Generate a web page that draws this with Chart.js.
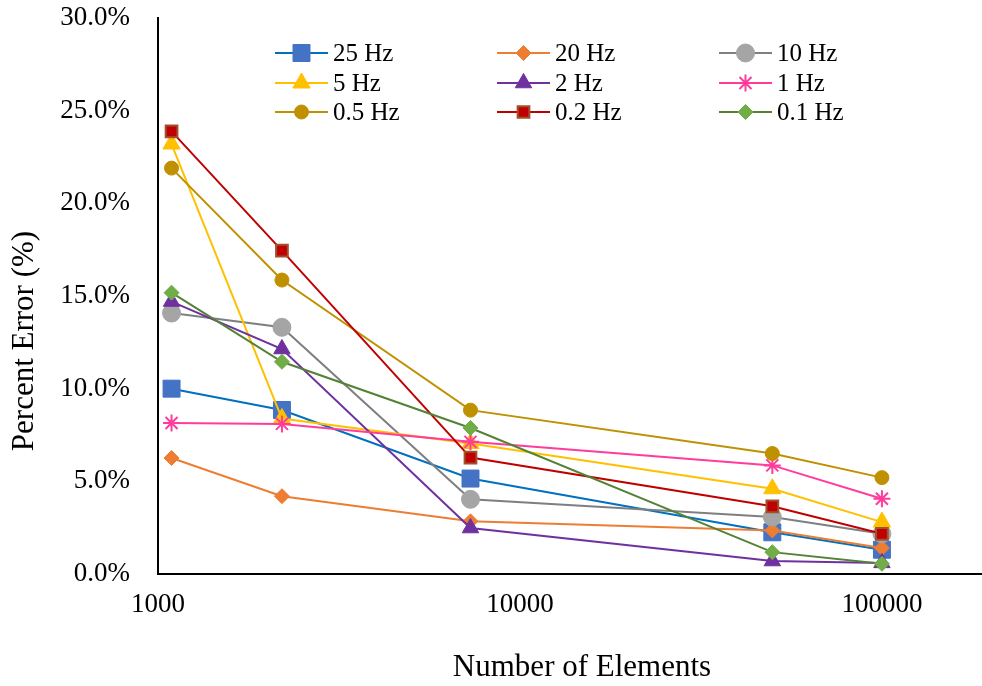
<!DOCTYPE html>
<html><head><meta charset="utf-8">
<script src="https://cdn.jsdelivr.net/npm/chart.js@4.4.0/dist/chart.umd.min.js"></script>
<style>html,body{margin:0;padding:0;background:#fff;} canvas{display:block;}</style>
</head><body>
<canvas id="c" width="982" height="686"></canvas>
<script>
// ---- data ----
const elements = [1090, 2200, 7300, 49800, 100000];
const seriesNames = ['25 Hz','20 Hz','10 Hz','5 Hz','2 Hz','1 Hz','0.5 Hz','0.2 Hz','0.1 Hz'];
const err25Hz  = [10.0, 8.85, 5.15, 2.25, 1.31];
const err20Hz  = [6.26, 4.2, 2.84, 2.35, 1.4];
const err10Hz  = [14.08, 13.31, 4.03, 3.07, 2.17];
const err5Hz   = [23.2, 8.39, 7.04, 4.6, 2.8];
const err2Hz   = [14.7, 12.14, 2.48, 0.7, 0.6];
const err1Hz   = [8.15, 8.1, 7.13, 5.86, 4.06];
const err05Hz  = [21.9, 15.86, 8.84, 6.5, 5.2];
const err02Hz  = [23.88, 17.45, 6.28, 3.65, 2.17];
const err01Hz  = [15.18, 11.45, 7.88, 1.18, 0.55];
const xTickValues = [1000, 10000, 100000];
const yTickValues = [0, 5, 10, 15, 20, 25, 30];
const xTitle = 'Number of Elements';
const yTitle = 'Percent Error (%)';

const seriesValues = [err25Hz, err20Hz, err10Hz, err5Hz, err2Hz, err1Hz, err05Hz, err02Hz, err01Hz];

// ---- styles ----
const lineColors   = ['#0070C0','#ED7D31','#7F7F7F','#FFC000','#7030A0','#FF3C9C','#BF9000','#C00000','#548235'];
const markerFills  = ['#4472C4','#ED7D31','#A5A5A5','#FFC000','#7030A0','#FF3C9C','#BF9000','#C00000','#70AD47'];
const markerBorders= ['#4472C4','#ED7D31','#A5A5A5','#FFC000','#7030A0','#FF3C9C','#BF9000','#A0522D','#70AD47'];
const markerStyles = ['rect','rectRot','circle','triangle','triangle','star','circle','rect','rectRot'];
const markerRadii  = [12, 7.5, 9, 10, 9.5, 8.5, 7, 8.3, 7.5];
const markerBorderW= [1, 1, 1, 1, 1, 2, 1, 2, 1];
const FONT = '"Liberation Serif", "Times New Roman", serif';

const datasets = seriesNames.map((name, i) => ({
  label: name,
  data: elements.map((x, j) => ({x: x, y: seriesValues[i][j]})),
  borderColor: lineColors[i],
  backgroundColor: markerFills[i],
  borderWidth: 2,
  pointStyle: markerStyles[i],
  pointRadius: markerRadii[i],
  pointBackgroundColor: markerFills[i],
  pointBorderColor: markerBorders[i],
  pointBorderWidth: markerBorderW[i],
  tension: 0,
  order: seriesNames.length - i
}));

const legendCols = [275, 497, 719];
const legendRows = [53, 83, 112];

const customPlugin = {
  id: 'custom',
  afterDraw(chart) {
    const ctx = chart.ctx;
    ctx.save();
    // legend
    chart.data.datasets.forEach((ds, i) => {
      const x0 = legendCols[i % 3];
      const y0 = legendRows[Math.floor(i / 3)];
      ctx.strokeStyle = ds.borderColor;
      ctx.lineWidth = 2;
      ctx.beginPath();
      ctx.moveTo(x0, y0);
      ctx.lineTo(x0 + 53, y0);
      ctx.stroke();
      ctx.fillStyle = ds.pointBackgroundColor;
      ctx.strokeStyle = ds.pointBorderColor;
      ctx.lineWidth = ds.pointBorderWidth;
      Chart.helpers.drawPoint(ctx, {pointStyle: ds.pointStyle, radius: ds.pointRadius, rotation: 0, borderWidth: ds.pointBorderWidth}, x0 + 26.5, y0);
      ctx.fillStyle = '#000';
      ctx.font = '25px ' + FONT;
      ctx.textAlign = 'left';
      ctx.textBaseline = 'middle';
      ctx.fillText(ds.label, x0 + 58, y0 + 1);
    });
    // axis titles
    ctx.fillStyle = '#000';
    ctx.font = '31px ' + FONT;
    ctx.textAlign = 'center';
    ctx.textBaseline = 'middle';
    ctx.fillText(xTitle, 582, 668);
    ctx.translate(25, 341);
    ctx.rotate(-Math.PI / 2);
    ctx.fillText(yTitle, 0, 0);
    ctx.restore();
  }
};

new Chart(document.getElementById('c'), {
  type: 'line',
  data: { datasets: datasets },
  options: {
    responsive: false,
    animation: false,
    devicePixelRatio: 1,
    layout: { autoPadding: false, padding: { top: 18, right: 0, left: 0, bottom: 0 } },
    plugins: { legend: { display: false }, tooltip: { enabled: false } },
    scales: {
      x: {
        type: 'logarithmic',
        min: 1000,
        max: 189000,
        afterBuildTicks: s => { s.ticks = xTickValues.map(v => ({value: v})); },
        afterFit: s => { s.height = 112; s.paddingLeft = 0; s.paddingRight = 0; },
        grid: { display: false, drawTicks: false },
        border: { display: true, color: '#000', width: 2 },
        ticks: {
          color: '#000',
          font: { family: FONT, size: 27 },
          padding: 15,
          maxRotation: 0,
          autoSkip: false,
          callback: v => String(v)
        }
      },
      y: {
        type: 'linear',
        min: 0,
        max: 30,
        afterBuildTicks: s => { s.ticks = yTickValues.map(v => ({value: v})); },
        afterFit: s => { s.width = 158; s.paddingTop = 0; s.paddingBottom = 0; },
        grid: { display: false, drawTicks: false },
        border: { display: true, color: '#000', width: 2 },
        ticks: {
          color: '#000',
          font: { family: FONT, size: 27 },
          padding: 28,
          callback: v => v.toFixed(1) + '%'
        }
      }
    }
  },
  plugins: [customPlugin]
});
</script>
</body></html>
